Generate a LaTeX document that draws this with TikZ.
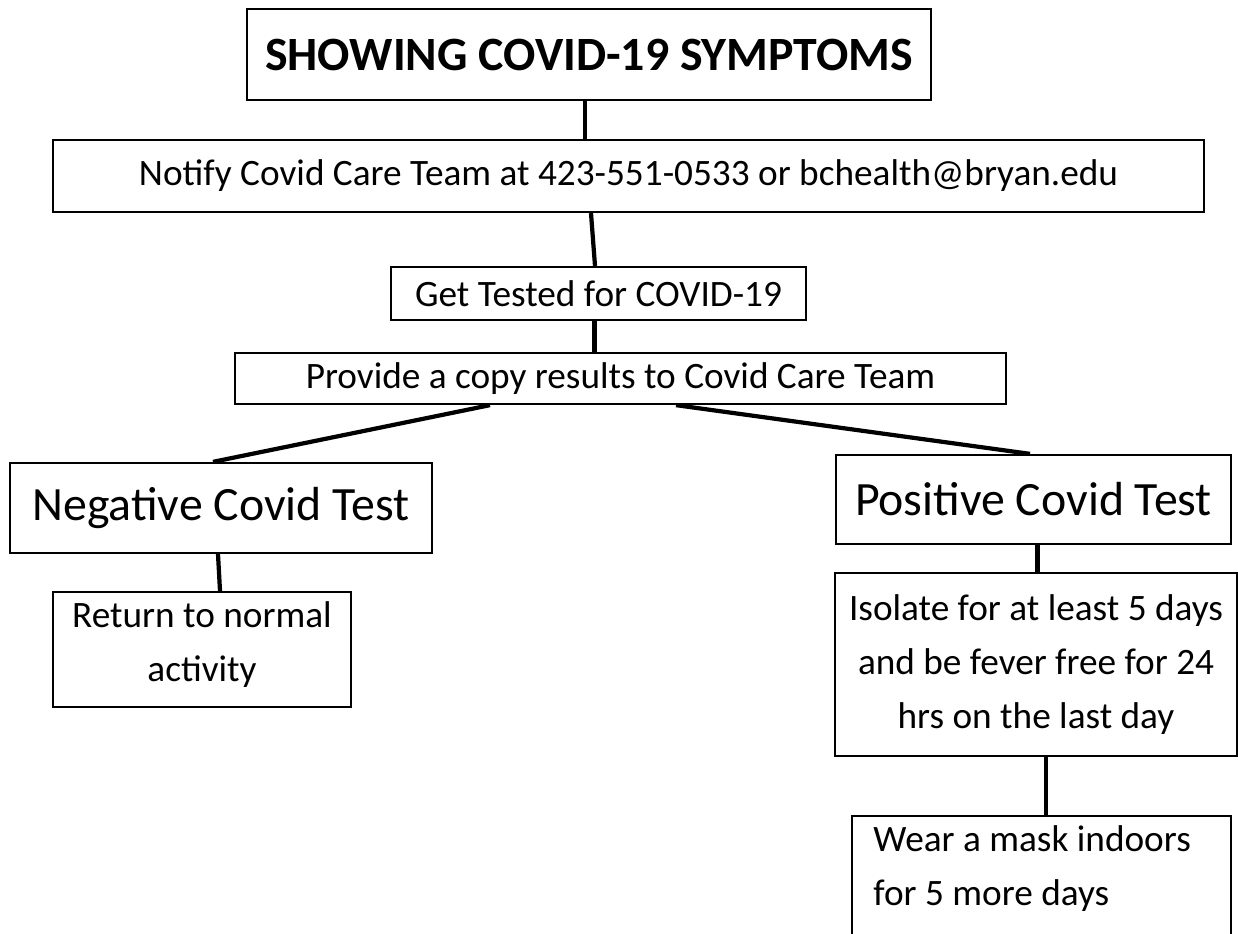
\documentclass[tikz,border=0pt]{standalone}
\usepackage{fontspec}
\setmainfont{Carlito}
\usepackage{tikz}

\newcommand{\bodyfont}{\fontsize{26.5}{38.4}\selectfont}
\newcommand{\bigfont}{\fontsize{34}{40}\selectfont}
\newcommand{\headfont}{\fontsize{34}{40}\selectfont\bfseries}

\tikzset{
  box/.style={draw, line width=1.6pt, inner sep=0pt, align=center, font=\bodyfont},
  link/.style={line width=3pt}
}

\begin{document}
\begin{tikzpicture}[x=0.025cm, y=-0.025cm]
  \useasboundingbox (0,0) rectangle (1238,934);
      \node[box, font=\headfont, minimum width=17.1cm, minimum height=2.275cm] (title) at (589,54.5) {SHOWING COVID-19 SYMPTOMS};
      \node[box, minimum width=28.775cm, minimum height=1.8cm] (notify) at (628.5,176) {Notify Covid Care Team at 423-551-0533 or bchealth@bryan.edu};
      \node[box, minimum width=10.375cm, minimum height=1.325cm] (tested) at (598.5,293.5) {Get Tested for COVID-19};
      \node[box, minimum width=19.275cm, minimum height=1.275cm] (provide) at (620.5,378.5) {Provide a copy results to Covid Care Team};
      \node[box, font=\bigfont, minimum width=10.55cm, minimum height=2.25cm] (neg) at (221,508) {Negative Covid Test};
      \node[box, font=\bigfont, minimum width=9.875cm, minimum height=2.225cm] (pos) at (1033.5,499.5) {Positive Covid Test};
      \node[box, minimum width=7.45cm, minimum height=2.875cm, text depth=0.4cm] (ret) at (202,649.5) {Return to normal\\activity};
      \node[box, minimum width=10.05cm, minimum height=4.575cm] (iso) at (1036,664.5) {Isolate for at least 5 days\\and be fever free for 24\\hrs on the last day};
      \node[box, anchor=north, minimum width=9.475cm, minimum height=3.8cm, text width=8.4cm, align=flush left] (wear) at (1041.5,815) {Wear a mask indoors\\for 5 more days\\\mbox{}};
        % links
      \draw[link] ([xshift=-0.1cm]title.south) -- ([xshift=-0.1cm]title.south |- notify.north);
      \draw[link] ([xshift=-0.9375cm]notify.south) -- ([xshift=-0.0875cm]tested.north);
      \draw[link] ([xshift=-0.1cm]tested.south) -- ([xshift=-0.1cm]tested.south |- provide.north);
      \draw[link] ([xshift=-3.2625cm]provide.south) -- ([xshift=-0.2cm]neg.north);
      \draw[link] ([xshift=1.3875cm]provide.south) -- ([xshift=-0.0875cm]pos.north);
      \draw[link] ([xshift=-0.075cm]neg.south) -- ([xshift=0.45cm]ret.north);
      \draw[link] ([xshift=0.1cm]pos.south) -- ([xshift=0.1cm]pos.south |- iso.north);
      \draw[link] ([xshift=0.25cm]iso.south) -- ([xshift=0.25cm]iso.south |- wear.north);
\end{tikzpicture}
\end{document}
